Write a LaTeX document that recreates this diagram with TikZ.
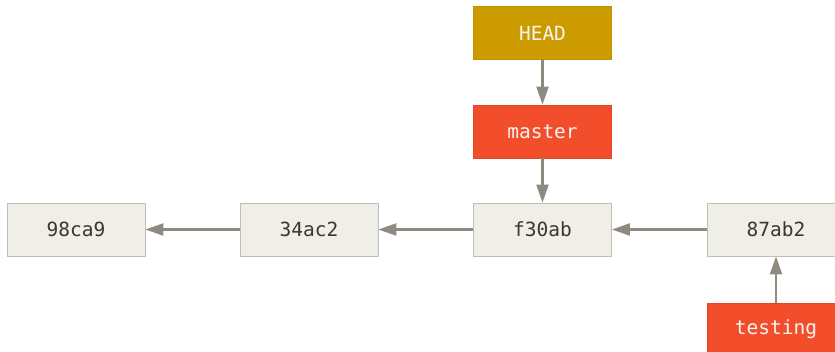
\documentclass[tikz,border=0pt]{standalone}
\usepackage{fontspec}
\setmonofont{DejaVu Sans Mono}
\usetikzlibrary{arrows.meta}
\definecolor{commitfill}{RGB}{239,238,231}
\definecolor{commitdraw}{RGB}{192,190,182}
\definecolor{committext}{RGB}{58,54,50}
\definecolor{branchfill}{RGB}{243,78,43}
\definecolor{branchdraw}{RGB}{225,70,40}
\definecolor{headfill}{RGB}{204,155,0}
\definecolor{headdraw}{RGB}{190,145,0}
\definecolor{labeltext}{RGB}{245,243,238}
\definecolor{arrowcol}{RGB}{143,138,128}
\tikzset{
  box/.style={minimum width=138pt, minimum height=53pt, inner sep=0pt, line width=0.8pt,
    font=\ttfamily\fontsize{19.5}{22}\selectfont, anchor=center},
  commitbox/.style={box, fill=commitfill, draw=commitdraw, text=committext},
  branchbox/.style={box, fill=branchfill, draw=branchdraw, text=labeltext},
  headbox/.style={box, fill=headfill, draw=headdraw, text=labeltext},
  ptr/.style={draw=arrowcol, line width=2.2pt, -{Triangle[length=18pt,width=12pt]}}
}
\begin{document}
\begin{tikzpicture}[x=1pt,y=-1pt]
\useasboundingbox (0,0) rectangle (835,352);
\node[headbox] (head) at (542.5,33) {HEAD};
\node[branchbox] (master) at (542.5,131.5) {master};
\node[commitbox] (c1) at (76,229.5) {98ca9};
\node[commitbox] (c2) at (309,229.5) {34ac2};
\node[commitbox] (c3) at (542.5,229.5) {f30ab};
\node[commitbox] (c4) at (776,229.5) {87ab2};
\node[branchbox] (testing) at (776,329.5) {testing};
\draw[ptr] (head) -- (master);
\draw[ptr] (master) -- (c3);
\draw[ptr] (c2) -- (c1);
\draw[ptr] (c3) -- (c2);
\draw[ptr] (c4) -- (c3);
\draw[ptr] (testing) -- (c4);
\end{tikzpicture}
\end{document}
